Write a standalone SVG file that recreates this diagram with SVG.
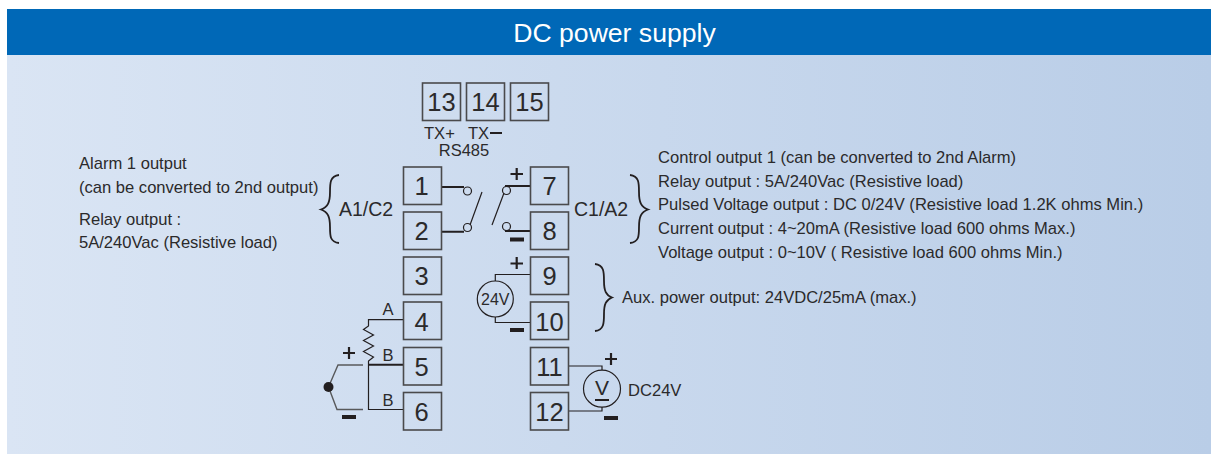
<svg xmlns="http://www.w3.org/2000/svg" width="1211" height="454" viewBox="0 0 1211 454">
<style>
text{font-family:"Liberation Sans",Arial,sans-serif;fill:#2b2a2b}
.n{font-size:25.500px;text-anchor:middle}
.t{font-size:16.570px}
.s{font-size:16.500px;text-anchor:middle}
.c{font-size:19.500px}
.box{fill:none;stroke:#4a4a4c;stroke-width:1.6}
.w{fill:none;stroke:#231f20;stroke-width:1.200}
.h{fill:none;stroke:#231f20;stroke-width:2}
.g{fill:none;stroke:#58595b;stroke-width:1.400}
.sym{stroke:#231f20;stroke-width:2.200;fill:none}
.minus{fill:#231f20}
.b{fill:none;stroke:#231f20;stroke-width:1.800}
</style>
<defs>
<linearGradient id="bg" x1="0" y1="0" x2="1" y2="0"><stop offset="0" stop-color="#dae5f4"/><stop offset="1" stop-color="#b9cde7"/></linearGradient>
</defs>
<rect width="1211" height="454" fill="#fff"/>
<rect x="7" y="55" width="1204" height="399" fill="url(#bg)"/>
<rect x="7" y="9" width="1204" height="46" fill="#0068b7"/>
<text x="614.500" y="42" font-size="26.600" text-anchor="middle" style="fill:#fff">DC power supply</text>

<g id="connectors">
<path class="h" d="M441.500 187H464M441.500 231.700H464M505 186H530.500M505 231H530.500"/>
<path class="w" d="M470 225L482 192M492 225L504 193"/>
<circle class="w" cx="467.500" cy="191" r="4"/>
<circle class="w" cx="467.500" cy="227.500" r="4"/>
<circle class="w" cx="506.500" cy="190.500" r="4"/>
<circle class="w" cx="506.500" cy="226.500" r="4"/>
<path class="w" d="M403.500 319.700H368.500V326L363.500 329.500L373.500 335L363.500 340.500L373.500 346L363.500 351.500L373.500 357L368.500 361V409.500H403.500"/>
<path class="h" d="M368 364.700H403.500"/>
<path class="g" d="M363 365H338L328.500 387L337 409.500H363"/>
<circle cx="328.500" cy="387" r="5" fill="#231f20"/>
<path class="w" d="M495.300 281V274.500H530.500M495.300 317V322.500H530"/>
<path class="w" d="M568.500 366H602V370M568.500 411H602V407"/>
</g>

<g id="n13"><rect class="box" x="422.500" y="83" width="38" height="37.500"/><text class="n" x="441.500" y="111">13</text></g>
<g id="n14"><rect class="box" x="466.500" y="83" width="38" height="37.500"/><text class="n" x="485.500" y="111">14</text></g>
<g id="n15"><rect class="box" x="510.500" y="83" width="38" height="37.500"/><text class="n" x="529.500" y="111">15</text></g>
<g id="n1"><rect class="box" x="403.500" y="167" width="38" height="37.500"/><text class="n" x="421.500" y="195">1</text></g>
<g id="n2"><rect class="box" x="403.500" y="212" width="38" height="37.500"/><text class="n" x="421.500" y="240">2</text></g>
<g id="n3"><rect class="box" x="403.500" y="257" width="38" height="37.500"/><text class="n" x="421.500" y="285">3</text></g>
<g id="n4"><rect class="box" x="403.500" y="302" width="38" height="37.500"/><text class="n" x="421.500" y="331">4</text></g>
<g id="n5"><rect class="box" x="403.500" y="347.500" width="38" height="37.500"/><text class="n" x="421.500" y="376">5</text></g>
<g id="n6"><rect class="box" x="403.500" y="392.500" width="38" height="37.500"/><text class="n" x="421.500" y="421">6</text></g>
<g id="n7"><rect class="box" x="530.500" y="167" width="38" height="37.500"/><text class="n" x="549.500" y="195">7</text></g>
<g id="n8"><rect class="box" x="530.500" y="212" width="38" height="37.500"/><text class="n" x="549.500" y="240">8</text></g>
<g id="n9"><rect class="box" x="530.500" y="257" width="38" height="37.500"/><text class="n" x="549.500" y="285">9</text></g>
<g id="n10"><rect class="box" x="530.500" y="302" width="38" height="37.500"/><text class="n" x="549.500" y="331">10</text></g>
<g id="n11"><rect class="box" x="530.500" y="347.500" width="38" height="37.500"/><text class="n" x="549.500" y="376">11</text></g>
<g id="n12"><rect class="box" x="530.500" y="392.500" width="38" height="37.500"/><text class="n" x="549.500" y="421">12</text></g>

<g id="src24"><circle class="w" cx="495.300" cy="299" r="18"/><text x="495.300" y="305" font-size="16" text-anchor="middle">24V</text></g>
<g id="meter"><circle class="w" cx="602" cy="388.700" r="18.500"/><text x="602" y="395" font-size="21" text-anchor="middle">V</text><path class="h" d="M595 400H609"/></g>

<g id="symbols">
<path class="sym" d="M516.700 168V180M510.500 174H523"/>
<rect class="minus" x="510" y="237.500" width="14" height="4"/>
<path class="sym" d="M516.700 257V269M510.500 263.500H523"/>
<rect class="minus" x="510" y="328" width="14" height="4"/>
<path class="sym" d="M349 347V359M343 353H355"/>
<rect class="minus" x="342" y="415" width="14" height="4"/>
<path class="sym" d="M611 353V365M605 359H617"/>
<rect class="minus" x="604" y="416" width="14" height="4"/>
</g>

<g id="braces">
<path class="b" d="M339 175C330 176 330 183 330 192C330 202 328 207 321 209.500C328 212 330 217 330 227C330 236 330 242 339 243"/>
<path class="b" d="M630 175C639 176 639 183 639 192C639 202 641 207 648 209.500C641 212 639 217 639 227C639 236 639 242 630 243"/>
<path class="b" d="M595 264C604 265 604 272 604 281C604 291 606 295 612 297.500C606 300 604 304 604 314C604 323 604 330 595 331"/>
</g>

<g id="labels">
<text class="t" x="424" y="138.500">TX+</text>
<text class="t" x="468" y="138.500">TX</text>
<rect class="minus" x="490" y="132" width="12" height="2"/>
<text class="s" x="464" y="156">RS485</text>
<text class="c" x="339" y="216">A1/C2</text>
<text class="c" x="574" y="216">C1/A2</text>
<text class="s" x="388" y="315">A</text>
<text class="s" x="388" y="361">B</text>
<text class="s" x="388" y="406">B</text>
<text class="t" x="628" y="396">DC24V</text>
<text class="t" x="79" y="169">Alarm 1 output</text>
<text class="t" x="79" y="193">(can be converted to 2nd output)</text>
<text class="t" x="79" y="225">Relay output :</text>
<text class="t" x="79" y="248">5A/240Vac (Resistive load)</text>
<text class="t" x="658" y="163">Control output 1 (can be converted to 2nd Alarm)</text>
<text class="t" x="658" y="187">Relay output : 5A/240Vac (Resistive load)</text>
<text class="t" x="658" y="210">Pulsed Voltage output : DC 0/24V (Resistive load 1.2K ohms Min.)</text>
<text class="t" x="658" y="234">Current output : 4~20mA (Resistive load 600 ohms Max.)</text>
<text class="t" x="658" y="258">Voltage output : 0~10V ( Resistive load 600 ohms Min.)</text>
<text class="t" x="622" y="303">Aux. power output: 24VDC/25mA (max.)</text>
</g>
</svg>
